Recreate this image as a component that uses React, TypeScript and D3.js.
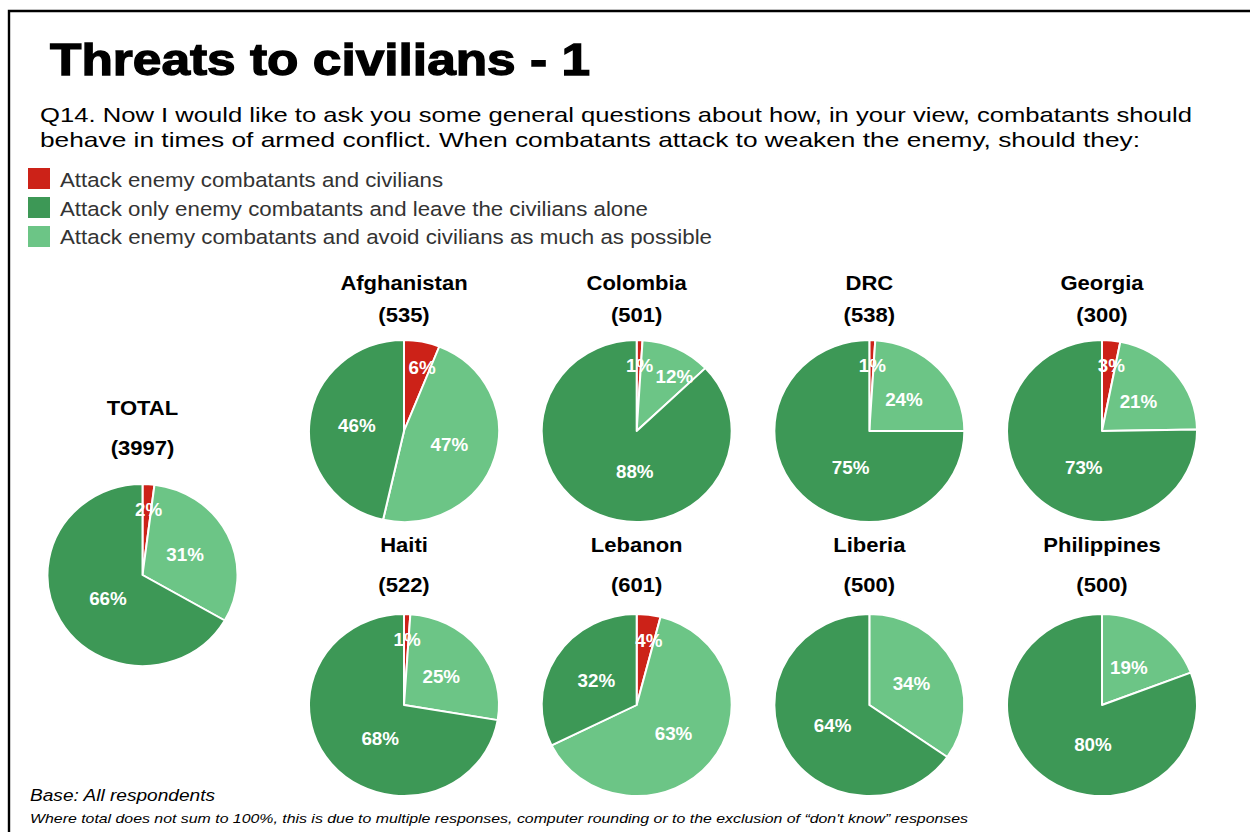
import React from "react";
import * as d3 from "d3";

const countries = ["TOTAL", "Afghanistan", "Colombia", "DRC", "Georgia", "Haiti", "Lebanon", "Liberia", "Philippines"];
const bases = [3997, 535, 501, 538, 300, 522, 601, 500, 500];
const attackBoth = [2, 6, 1, 1, 3, 1, 4, 0, 0];
const avoidAsMuch = [31, 47, 12, 24, 21, 25, 63, 34, 19];
const onlyCombatants = [66, 46, 88, 75, 73, 68, 32, 64, 80];

const seriesNames = [
  "Attack enemy combatants and civilians",
  "Attack only enemy combatants and leave the civilians alone",
  "Attack enemy combatants and avoid civilians as much as possible",
];
const questionLines = [
  "Q14. Now I would like to ask you some general questions about how, in your view, combatants should",
  "behave in times of armed conflict. When combatants attack to weaken the enemy, should they:",
];
const RED = "#cc2218";
const DARK = "#3d9856";
const LIGHT = "#6cc586";
const legendColors = [RED, DARK, LIGHT];
const legendWidths = [383, 588, 652];

const FONT = "'Liberation Sans', Arial, Helvetica, sans-serif";
const SX = 1.075;

const RX = 95;
const RY = 91;

const colX = d3.scalePoint<number>().domain([0, 1, 2, 3]).range([404, 1102]);
const rowY = [431, 705];

type Layout = { cx: number; cy: number; nameY: number; baseY: number };
function layoutFor(i: number): Layout {
  if (i === 0) return { cx: 142.5, cy: 575, nameY: 415, baseY: 455 };
  const k = i - 1;
  const row = Math.floor(k / 4);
  const col = k % 4;
  const cy = rowY[row];
  return {
    cx: colX(col)!,
    cy,
    nameY: row === 0 ? cy - 141 : cy - 153,
    baseY: row === 0 ? cy - 109 : cy - 113,
  };
}

function CText({ x, y, size, fill, children, dy }: { x: number; y: number; size: number; fill: string; children: any; dy?: string }) {
  return (
    <g transform={`translate(${x},${y}) scale(${SX},1)`}>
      <text x={0} y={0} dy={dy} textAnchor="middle" fontFamily={FONT} fontWeight="bold" fontSize={size} fill={fill}>
        {children}
      </text>
    </g>
  );
}

type Slice = { value: number; color: string };

function labelPlacement(a: d3.PieArcDatum<Slice>, total: number) {
  const frac = a.value / total;
  const mid = (a.startAngle + a.endAngle) / 2;
  if (frac < 0.15) {
    return { ang: a.startAngle + 0.7 * (a.endAngle - a.startAngle), f: 0.72 };
  }
  if (frac > 0.64) {
    const w = Math.max(0, Math.min(1, (frac - 0.64) / 0.26));
    return { ang: mid - (mid - Math.PI) * w, f: 0.45 };
  }
  return { ang: mid, f: 0.5 };
}

function Pie({ i }: { i: number }) {
  const L = layoutFor(i);
  const slices: Slice[] = [
    { value: attackBoth[i], color: RED },
    { value: avoidAsMuch[i], color: LIGHT },
    { value: onlyCombatants[i], color: DARK },
  ];
  const total = d3.sum(slices, (s) => s.value);
  const arcs = d3
    .pie<Slice>()
    .sort(null)
    .value((s) => s.value)(slices);
  const arcGen = d3.arc<d3.PieArcDatum<Slice>>().innerRadius(0).outerRadius(RX);
  return (
    <g>
      <CText x={L.cx} y={L.nameY} size={20.5} fill="#000">
        {countries[i]}
      </CText>
      <CText x={L.cx} y={L.baseY} size={20.5} fill="#000">
        ({bases[i]})
      </CText>
      <g transform={`translate(${L.cx},${L.cy}) scale(1,${RY / RX})`}>
        {arcs.map((a, j) =>
          a.value > 0 ? (
            <path key={j} d={arcGen(a) || ""} fill={a.data.color} stroke="#fff" strokeWidth={2} strokeLinejoin="round" />
          ) : null
        )}
      </g>
      {arcs.map((a, j) => {
        if (a.value <= 0) return null;
        const { ang, f } = labelPlacement(a, total);
        const x = L.cx + Math.sin(ang) * RX * f;
        const y = L.cy - Math.cos(ang) * RY * f;
        return (
          <CText key={"l" + j} x={x} y={y} dy="0.36em" size={17.5} fill="#fff">
            {a.value}%
          </CText>
        );
      })}
    </g>
  );
}

export default function App() {
  return (
    <svg
      width={1250}
      height={832}
      viewBox="0 0 1250 832"
      style={{ position: "absolute", left: 0, top: 0, background: "#fff" }}
    >
      <rect x={0} y={0} width={1250} height={832} fill="#fff" />
      <path d="M9,840 L9,11 L1260,11" fill="none" stroke="#000" strokeWidth={2.4} />
      <text
        x={50}
        y={75}
        fontFamily={FONT}
        fontWeight="bold"
        fontSize={45}
        fill="#000"
        stroke="#000"
        strokeWidth={1.3}
        textLength={540}
        lengthAdjust="spacingAndGlyphs"
      >
        Threats to civilians - 1
      </text>
      {questionLines.map((line, k) => (
        <text
          key={k}
          x={40}
          y={122 + k * 25}
          fontFamily={FONT}
          fontSize={21}
          fill="#000"
          textLength={k === 0 ? 1152 : 1100}
          lengthAdjust="spacingAndGlyphs"
        >
          {line}
        </text>
      ))}
      {seriesNames.map((name, k) => (
        <g key={k}>
          <rect x={28} y={168 + k * 29} width={22} height={21} fill={legendColors[k]} />
          <text
            x={60}
            y={187 + k * 28.7}
            fontFamily={FONT}
            fontSize={20.5}
            fill="#333"
            textLength={legendWidths[k]}
            lengthAdjust="spacingAndGlyphs"
          >
            {name}
          </text>
        </g>
      ))}
      {countries.map((_, i) => (
        <Pie key={i} i={i} />
      ))}
      <text
        x={30}
        y={801}
        fontFamily={FONT}
        fontStyle="italic"
        fontSize={16.3}
        fill="#000"
        textLength={185}
        lengthAdjust="spacingAndGlyphs"
      >
        Base: All respondents
      </text>
      <text
        x={30}
        y={823}
        fontFamily={FONT}
        fontStyle="italic"
        fontSize={13.5}
        fill="#000"
        textLength={938}
        lengthAdjust="spacingAndGlyphs"
      >
        Where total does not sum to 100%, this is due to multiple responses, computer rounding or to the exclusion of “don't know” responses
      </text>
    </svg>
  );
}
